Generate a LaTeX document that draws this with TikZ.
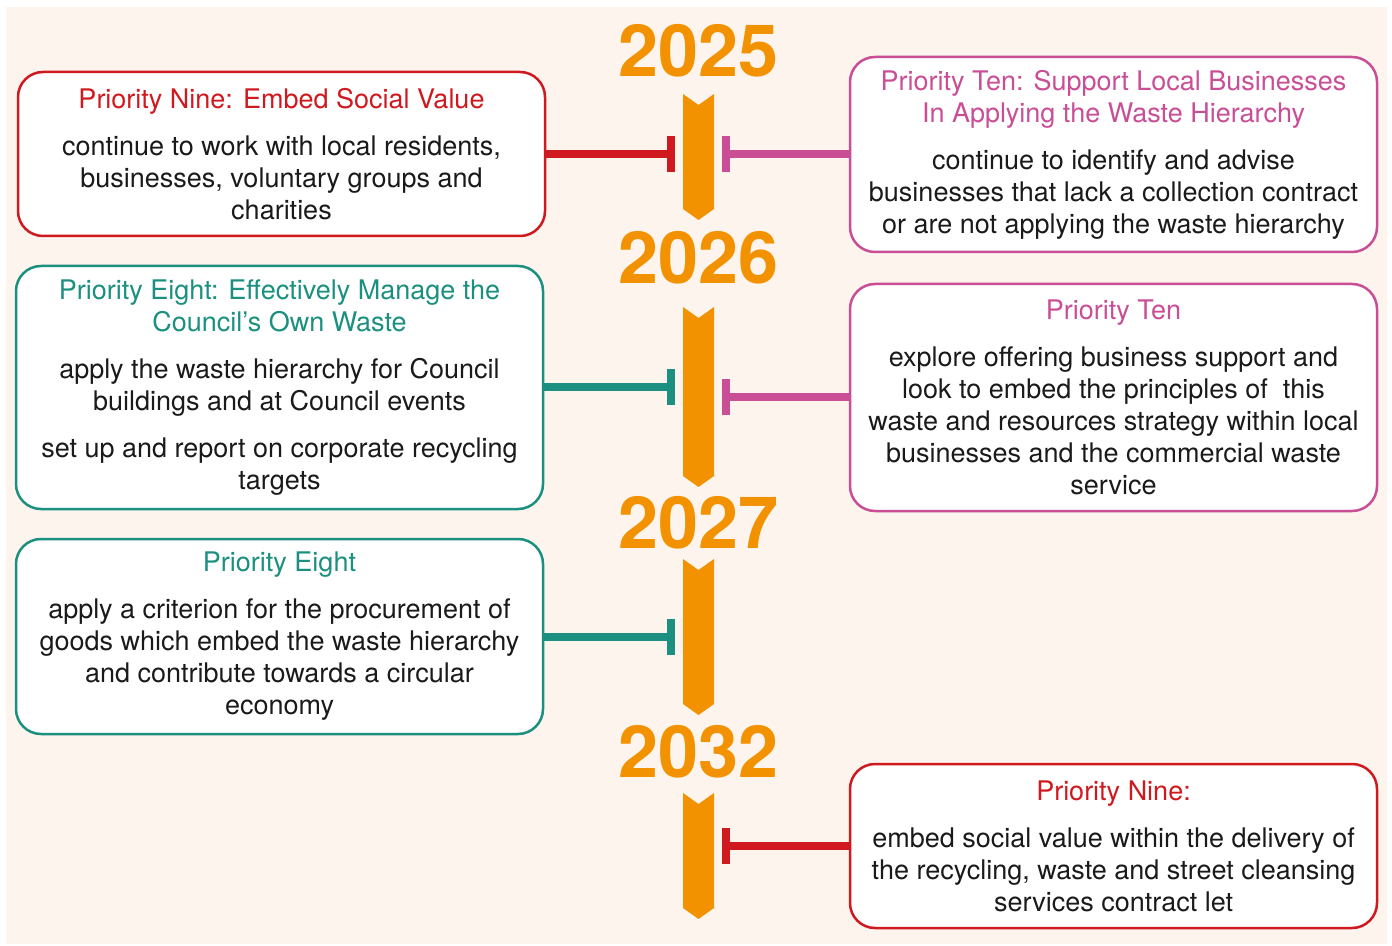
\documentclass[tikz,border=0pt]{standalone}
\usepackage{fontspec}
\setmainfont{TeX Gyre Heros}
\usepackage{tikz}
\usetikzlibrary{positioning, arrows.meta}

\definecolor{bgcream}{HTML}{FDF4EE}
\definecolor{yearorange}{HTML}{F39200}
\definecolor{prred}{HTML}{D0191E}
\definecolor{prpink}{HTML}{C94E96}
\definecolor{prteal}{HTML}{1C9080}
\definecolor{bodytext}{HTML}{1A1A1A}

\tikzset{
  prbox/.style={draw=#1, rounded corners=12.5pt, line width=1.25pt, fill=white,
    align=center, minimum width=263.5pt, text=bodytext,
    font=\fontsize{13.5}{16}\selectfont},
  year/.style={text=yearorange, font=\fontsize{36}{40}\selectfont\bfseries},
  conn/.style={draw=#1, line width=4pt, -{Bar[width=18pt, line width=4pt]}}
}

\begin{document}
\begin{tikzpicture}[x=0.5pt, y=-0.5pt]
    % Canvas
    \useasboundingbox (0,0) rectangle (1392,946);
    \fill[bgcream] (6,7) rectangle (1387,944);

    % Timeline arrows
    \foreach \t/\b in {94/220, 307/487, 559/715, 793/919} {
      \fill[yearorange] (683,\t) -- (698.5,\t+11) -- (714,\t) -- (714,\b-11)
        -- (698.5,\b) -- (683,\b-11) -- cycle;
    }

    % Years
    \foreach \y/\yr in {51/2025, 258/2026, 523/2027, 752/2032} {
      \node[year] (y\yr) at (698.5,\y) {\yr};
    }

    % Ends of the connectors
    \coordinate (barL) at (675,0);
    \coordinate (barR) at (722,0);

    % Left column
    \node[prbox=prred, minimum height=82pt] (nine) at (281.5,154)
      {\textcolor{prred}{Priority Nine: Embed Social Value}\\[7.5pt]
       continue to work with local residents,\\
       businesses, voluntary groups and\\
       charities};
    \node[prbox=prteal, minimum height=121.5pt] (eight) at (279.5,387.5)
      {\textcolor{prteal}{Priority Eight: Effectively Manage the}\\
       \textcolor{prteal}{Council’s Own Waste}\\[7.5pt]
       apply the waste hierarchy for Council\\
       buildings and at Council events\\[7.5pt]
       set up and report on corporate recycling\\
       targets};
    \node[prbox=prteal, minimum height=97.5pt] (eightb) at (279.5,636.5)
      {\textcolor{prteal}{Priority Eight}\\[7.5pt]
       apply a criterion for the procurement of\\
       goods which embed the waste hierarchy\\
       and contribute towards a circular\\
       economy};

    % Right column
    \node[prbox=prpink, minimum height=97.5pt] (ten) at (1113.5,154.5)
      {\textcolor{prpink}{Priority Ten: Support Local Businesses}\\
       \textcolor{prpink}{In Applying the Waste Hierarchy}\\[7.5pt]
       continue to identify and advise\\
       businesses that lack a collection contract\\
       or are not applying the waste hierarchy};
    \node[prbox=prpink, minimum height=113.5pt] (tenb) at (1113.5,397.5)
      {\textcolor{prpink}{Priority Ten}\\[7.5pt]
       explore offering business support and\\
       look to embed the principles of\ \ this\\
       waste and resources strategy within local\\
       businesses and the commercial waste\\
       service};
    \node[prbox=prred, minimum height=82pt] (nineb) at (1113.5,846)
      {\textcolor{prred}{Priority Nine:}\\[7.5pt]
       embed social value within the delivery of\\
       the recycling, waste and street cleansing\\
       services contract let};

    % Connectors
    \draw[conn=prred] (nine.east) -- (nine.east -| barL);
    \draw[conn=prteal] (eight.east) -- (eight.east -| barL);
    \draw[conn=prteal] (eightb.east) -- (eightb.east -| barL);
    \draw[conn=prpink] (ten.west) -- (ten.west -| barR);
    \draw[conn=prpink] (tenb.west) -- (tenb.west -| barR);
    \draw[conn=prred] (nineb.west) -- (nineb.west -| barR);

  \end{tikzpicture}
\end{document}
